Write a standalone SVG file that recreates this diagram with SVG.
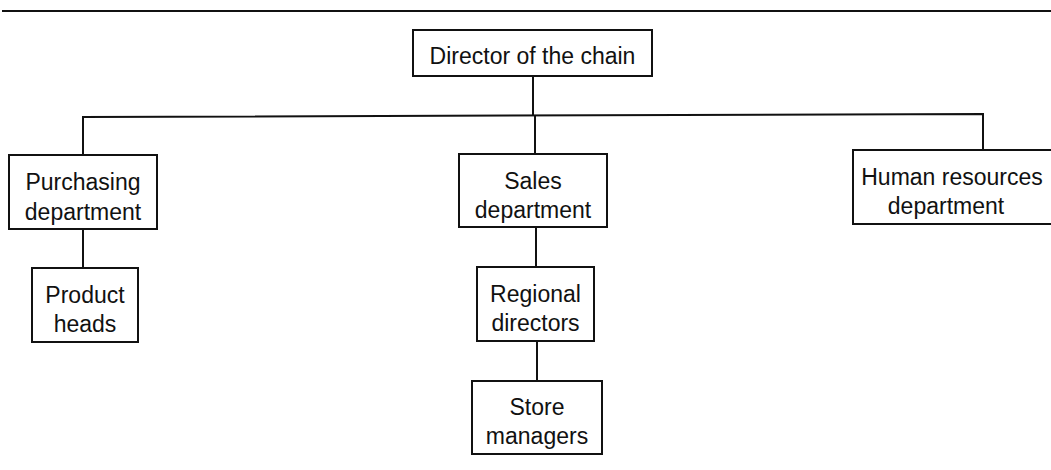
<svg xmlns="http://www.w3.org/2000/svg" width="1051" height="470" viewBox="0 0 1051 470">
  <style>
    .box { fill: #ffffff; stroke: #111111; stroke-width: 2; }
    .lbl { font-family: "Liberation Sans", Arial, sans-serif; font-size: 23px; fill: #111111; text-anchor: middle; }
    .wire { fill: none; stroke: #111111; stroke-width: 2; }
  </style>
  <rect x="0" y="0" width="1051" height="470" fill="#ffffff"/>

  <!-- header rule -->
  <line x1="2" y1="11" x2="1051" y2="11" stroke="#111111" stroke-width="2.2"/>

  <!-- connectors -->
  <g id="connectors">
    <line class="wire" x1="533" y1="76" x2="533" y2="116"/>
    <polyline class="wire" points="83,155 83,117 983,114 983,150"/>
    <line class="wire" x1="535" y1="116" x2="535" y2="154"/>
    <line class="wire" x1="83" y1="229" x2="83" y2="268"/>
    <line class="wire" x1="536" y1="227" x2="536" y2="267"/>
    <line class="wire" x1="537" y1="341" x2="537" y2="381"/>
  </g>

  <g id="director">
    <rect class="box" x="413" y="30" width="239" height="46"/>
    <text class="lbl" x="532.5" y="64">Director of the chain</text>
  </g>

  <g id="purchasing">
    <rect class="box" x="9" y="155" width="148" height="74"/>
    <text class="lbl" x="83" y="190">Purchasing</text>
    <text class="lbl" x="83" y="220">department</text>
  </g>

  <g id="product-heads">
    <rect class="box" x="32" y="268" width="106" height="74"/>
    <text class="lbl" x="85" y="303">Product</text>
    <text class="lbl" x="85" y="332">heads</text>
  </g>

  <g id="sales">
    <rect class="box" x="459" y="154" width="148" height="73"/>
    <text class="lbl" x="533" y="189">Sales</text>
    <text class="lbl" x="533" y="218">department</text>
  </g>

  <g id="regional-directors">
    <rect class="box" x="477" y="267" width="117" height="74"/>
    <text class="lbl" x="535.5" y="302">Regional</text>
    <text class="lbl" x="535.5" y="331">directors</text>
  </g>

  <g id="store-managers">
    <rect class="box" x="472" y="381" width="130" height="73"/>
    <text class="lbl" x="537" y="415">Store</text>
    <text class="lbl" x="537" y="444">managers</text>
  </g>

  <g id="human-resources">
    <rect class="box" x="853" y="150" width="210" height="74"/>
    <text class="lbl" x="952" y="185">Human resources</text>
    <text class="lbl" x="946" y="214">department</text>
  </g>
</svg>
